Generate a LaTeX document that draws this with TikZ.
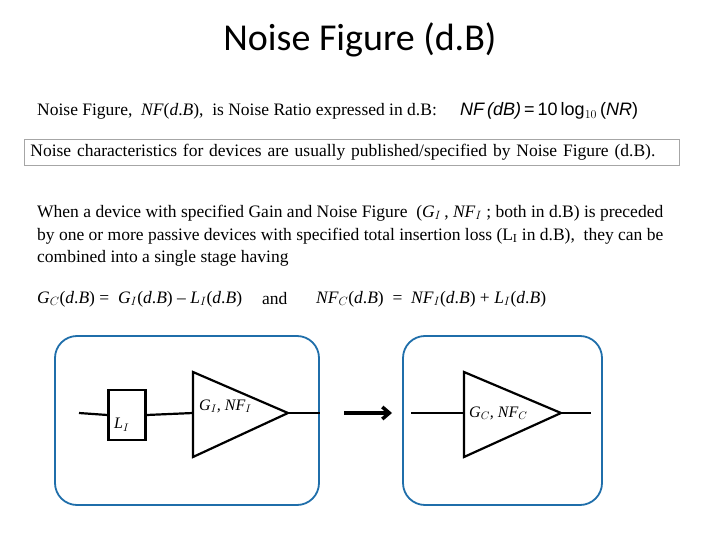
\documentclass[tikz,border=0pt]{standalone}
\usepackage{fontspec}
\setmainfont{Liberation Serif}
\newfontfamily\titlefont{Carlito}
\usetikzlibrary{arrows.meta}
\definecolor{frameblue}{RGB}{31,110,170}
\tikzset{
  txt/.style={anchor=west,inner sep=0pt,font=\fontsize{17.5}{21}\selectfont},
  block/.style={draw=frameblue,line width=1.8pt,rounded corners=22pt},
  wire/.style={line width=2.2pt},
  lbl/.style={anchor=west,inner sep=0pt,font=\fontsize{16}{19}\selectfont\itshape}
}
\begin{document}
\begin{tikzpicture}[x=1pt,y=-1pt]
  \useasboundingbox (0,0) rectangle (720,540);

  % Title
  \node (title) at (360,40) {\titlefont\fontsize{38}{44}\selectfont Noise Figure (d.B)};

  % Definition
  \node[txt] (def) at (37,111) {Noise Figure, \ \textit{NF}(\textit{d}.\textit{B}), \ is Noise Ratio expressed in d.B:};
  \node[txt] (defeq) at (460,111) {\fontspec{Liberation Sans}\fontsize{18}{21}\selectfont\itshape NF\,(dB)\upshape\,=\,10\,log$_{10}$\,(\itshape NR\upshape)};
  \node[txt,draw=gray!70,line width=0.8pt,inner xsep=6pt,inner ysep=5pt,text width=643pt] (note) at (24,152)
    {Noise characteristics for devices are usually published/specified by Noise Figure (d.B).};

  % Paragraph
  \node[txt] (par1) at (37,213) {When a device with specified Gain and Noise Figure \ (\textit{G$_I$}\,, \textit{NF$_I$} ; both in d.B) is preceded};
  \node[txt] (par2) at (37,236) {by one or more passive devices with specified total insertion loss (L$_\mathrm{I}$ in d.B), \ they can be};
  \node[txt] (par3) at (37,258) {combined into a single stage having};

  % Equations
  \node[txt] (eqG) at (37,299) {\textit{G$_C$}(\textit{d}.\textit{B}) = \ \textit{G$_I$}(\textit{d}.\textit{B}) -- \textit{L$_I$}(\textit{d}.\textit{B})};
  \node[txt] (and) at (262,299) {and};
  \node[txt] (eqN) at (316,299) {\textit{NF$_C$}(\textit{d}.\textit{B}) \ = \ \textit{NF$_I$}(\textit{d}.\textit{B}) + \textit{L$_I$}(\textit{d}.\textit{B})};

  % Frames
  \draw[block] (55,336) rectangle (319,505);
  \draw[block] (403,336) rectangle (602,505);

  % Cascade
  \coordinate (inL) at (79,413);
  \node[draw,line width=2.2pt,minimum width=37pt,minimum height=50pt,inner sep=0pt] (loss) at (127,415) {};
  \node[lbl] at (114,425) {L$_I$};
  \coordinate (ampIin) at (193,413);
  \coordinate (ampIout) at (288,413);
  \draw[wire,line join=miter] (193,372) -- (ampIout) -- (193,457) -- cycle;
  \node[lbl] at (199,406) {G$_I$, NF$_I$};
  \coordinate (outI) at (320,413);
  \draw[wire] (inL) -- (loss.west);
  \draw[wire] (loss.east) -- (ampIin);
  \draw[wire] (ampIout) -- (outI);

  % Arrow
  \coordinate (arrA) at (344,413);
  \coordinate (arrB) at (392,413);
  \draw[line width=3.5pt,-{Straight Barb[length=7pt,width=12pt]}] (arrA) -- (arrB);

  % Combined stage
  \coordinate (inC) at (411,413);
  \coordinate (ampCin) at (464,413);
  \coordinate (ampCout) at (561,413);
  \draw[wire,line join=miter] (464,372) -- (ampCout) -- (464,457) -- cycle;
  \node[lbl] at (469,413) {G$_C$, NF$_C$};
  \coordinate (outC) at (591,413);
  \draw[wire] (inC) -- (ampCin);
  \draw[wire] (ampCout) -- (outC);
\end{tikzpicture}
\end{document}
